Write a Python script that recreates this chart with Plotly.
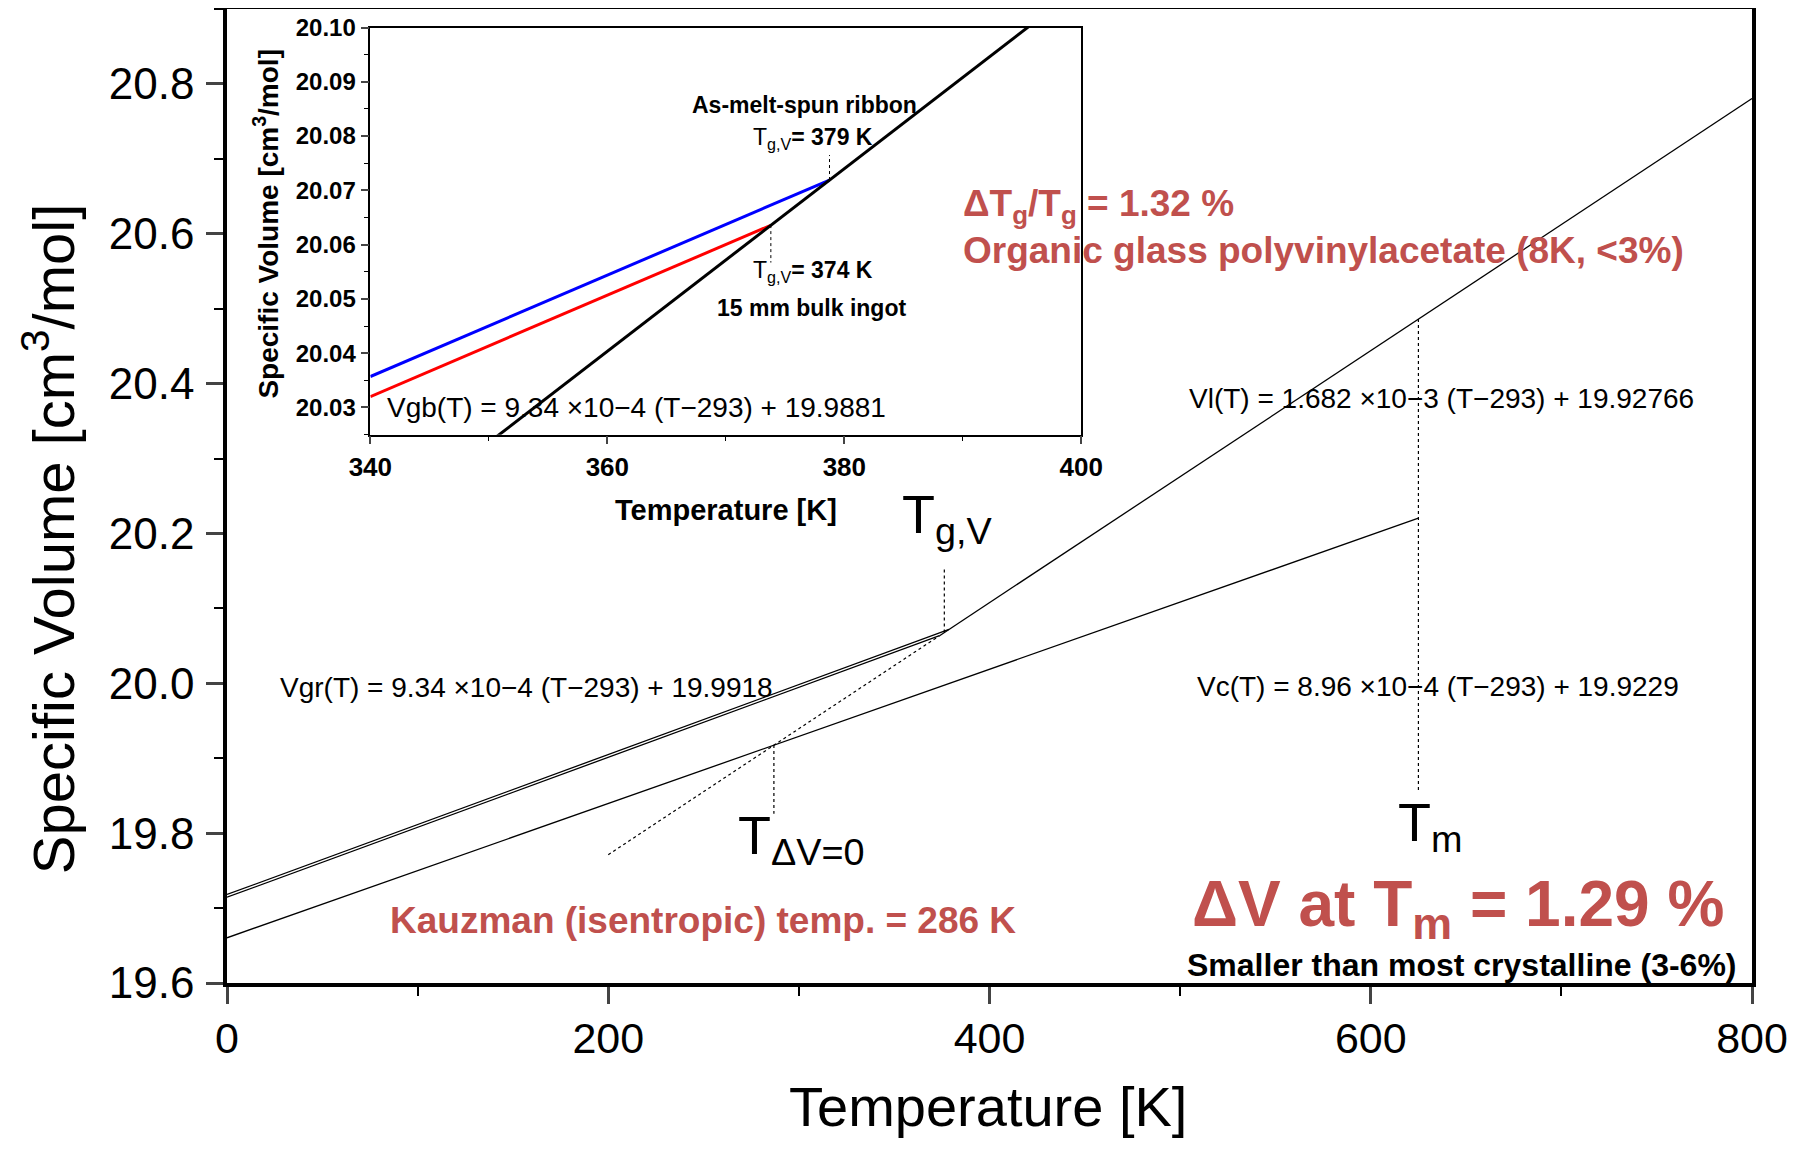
import plotly.graph_objects as go

# ---------------- data (read from the picture / equations shown) ----------------
# main plot lines: temperature [K] and specific volume [cm3/mol]
glass_ribbon_T = [0, 378.75]
glass_ribbon_V = [19.71814, 20.07189]
glass_bulk_T = [0, 373.8]
glass_bulk_V = [19.71444, 20.06357]
liquid_T = [373.8, 800]
liquid_V = [20.06357, 20.78043]
supercooled_T = [200, 373.8]
supercooled_V = [19.77123, 20.06357]
crystal_T = [0, 625]
crystal_V = [19.66037, 20.22037]
# vertical dotted guides
tm_T = [625, 625]
tm_V = [20.48608, 19.857]
tk_T = [286.9, 286.9]
tk_V = [19.9175, 19.826]
tg_T = [376.3, 376.3]
tg_V = [20.0678, 20.153]

# inset lines
in_ribbon_T = [340, 378.75]
in_ribbon_V = [20.0357, 20.07189]
in_bulk_T = [340, 373.8]
in_bulk_V = [20.0320, 20.06357]
in_liquid_T = [345, 400]
in_liquid_V = [20.01512, 20.10763]
in_tg_ribbon_T = [378.75, 378.75]
in_tg_ribbon_V = [20.0719, 20.0765]
in_tg_bulk_T = [373.8, 373.8]
in_tg_bulk_V = [20.0636, 20.0567]

main_xticks = [0, 200, 400, 600, 800]
main_yticks = [19.6, 19.8, 20.0, 20.2, 20.4, 20.6, 20.8]
inset_xticks = [340, 360, 380, 400]
inset_yticks = [20.03, 20.04, 20.05, 20.06, 20.07, 20.08, 20.09, 20.10]

FONT = "Liberation Sans, Arial"
RED = "#c0504d"

fig = go.Figure()

def line(x, y, dash="solid", width=1.3, color="black", xa="x", ya="y"):
    fig.add_trace(go.Scatter(x=x, y=y, mode="lines", xaxis=xa, yaxis=ya,
                             line=dict(color=color, width=width, dash=dash),
                             showlegend=False, hoverinfo="skip"))

line(glass_ribbon_T, glass_ribbon_V)
line(glass_bulk_T, glass_bulk_V)
line(liquid_T, liquid_V)
line(crystal_T, crystal_V)
line(supercooled_T, supercooled_V, dash="dot", width=1.2)
line(tm_T, tm_V, dash="dot", width=1.2)
line(tk_T, tk_V, dash="dot", width=1.2)
line(tg_T, tg_V, dash="dot", width=1.2)

line(in_ribbon_T, in_ribbon_V, color="#0000ff", width=3, xa="x2", ya="y2")
line(in_bulk_T, in_bulk_V, color="#ff0000", width=3, xa="x2", ya="y2")
line(in_liquid_T, in_liquid_V, color="black", width=3, xa="x2", ya="y2")
line(in_tg_ribbon_T, in_tg_ribbon_V, dash="dot", width=1, xa="x2", ya="y2")
line(in_tg_bulk_T, in_tg_bulk_V, dash="dot", width=1, xa="x2", ya="y2")

ann = []
def text(x, y, t, size, color="black", bold=False, xanchor="left", xref="x", yref="y", angle=0):
    ann.append(dict(x=x, y=y, xref=xref, yref=yref, text=t, showarrow=False,
                    xanchor=xanchor, yanchor="middle", textangle=angle,
                    font=dict(family=FONT, size=size, color=color,
                              weight="bold" if bold else "normal")))

# main annotations
text(353, 20.2206, "T<sub>g,V</sub>", 54)
text(267, 19.792, "T<sub>ΔV=0</sub>", 54)
text(613.5, 19.809, "T<sub>m</sub>", 54)
text(27, 19.9948, "Vgr(T) = 9.34 ×10−4 (T−293) + 19.9918", 28)
text(503.5, 20.380, "Vl(T) = 1.682 ×10−3 (T−293) + 19.92766", 28)
text(507.7, 19.9963, "Vc(T) = 8.96 ×10−4 (T−293) + 19.9229", 28)
text(385, 20.637, "ΔT<sub>g</sub>/T<sub>g</sub> = 1.32 %", 37, RED, True)
text(385, 20.578, "Organic glass polyvinylacetate (8K, <3%)", 37, RED, True)
text(84.2, 19.683, "Kauzman (isentropic) temp. = 286 K", 37, RED, True)
text(505.3, 19.700, "ΔV at T<sub>m</sub> = 1.29 %", 64, RED, True)
text(502.3, 19.6246, "Smaller than most crystalline (3-6%)", 32, "black", True)

# inset annotations
text(376.6, 20.0858, "As-melt-spun ribbon", 23, bold=True, xanchor="center", xref="x2", yref="y2")
text(372.1, 20.0796, "T<sub>g,V</sub><b>= 379 K</b>", 23, xref="x2", yref="y2")
text(372.1, 20.0550, "T<sub>g,V</sub><b>= 374 K</b>", 23, xref="x2", yref="y2")
text(377.2, 20.0483, "15 mm bulk ingot", 23, bold=True, xanchor="center", xref="x2", yref="y2")
text(341.2, 20.0300, "Vgb(T) = 9.34 ×10−4 (T−293) + 19.9881", 28, xref="x2", yref="y2")

# axis titles
ann.append(dict(x=-0.1165, y=0.456, xref="paper", yref="paper", showarrow=False,
                text="Specific Volume [cm<sup>3</sup>/mol]", textangle=-90,
                xanchor="center", yanchor="middle",
                font=dict(family=FONT, size=58, color="black")))
ann.append(dict(x=0.499, y=-0.127, xref="paper", yref="paper", showarrow=False,
                text="Temperature [K]", xanchor="center", yanchor="middle",
                font=dict(family=FONT, size=56, color="black")))
ann.append(dict(x=0.0256, y=0.7797, xref="paper", yref="paper", showarrow=False,
                text="Specific Volume [cm<sup>3</sup>/mol]", textangle=-90,
                xanchor="center", yanchor="middle",
                font=dict(family=FONT, size=28, color="black", weight="bold")))
ann.append(dict(x=0.327, y=0.4856, xref="paper", yref="paper", showarrow=False,
                text="Temperature [K]", xanchor="center", yanchor="middle",
                font=dict(family=FONT, size=29, color="black", weight="bold")))

fig.update_layout(
    width=1782, height=1134,
    margin=dict(l=219, r=38, t=1, b=159, autoexpand=False),
    paper_bgcolor="white", plot_bgcolor="white",
    annotations=ann,
    xaxis=dict(range=[0, 800], tickvals=main_xticks, ticks="outside", ticklen=17,
               tickwidth=3, showline=True, linewidth=3.5, linecolor="black", mirror=True,
               showgrid=False, zeroline=False, ticklabelstandoff=-2,
               tickfont=dict(family=FONT, size=43, color="black"),
               minor=dict(dtick=100, ticks="outside", ticklen=9, tickwidth=2, tickcolor="black", showgrid=False)),
    yaxis=dict(range=[19.6, 20.9], tickvals=main_yticks, tickformat=".1f", ticks="outside",
               ticklen=17, tickwidth=3, showline=True, linewidth=3.5, linecolor="black",
               mirror=True, showgrid=False, zeroline=False, ticklabelstandoff=3,
               tickfont=dict(family=FONT, size=44, color="black"),
               minor=dict(dtick=0.1, tick0=19.6, ticks="outside", ticklen=9, tickwidth=2, tickcolor="black", showgrid=False)),
    xaxis2=dict(domain=[0.094, 0.5602], anchor="y2", range=[340, 400], tickvals=inset_xticks,
                ticks="outside", ticklen=8, tickwidth=1.5, showline=True, linewidth=1.5,
                linecolor="black", mirror=True, showgrid=False, zeroline=False,
                tickfont=dict(family=FONT, size=26, color="black", weight="bold"),
                minor=dict(dtick=10, tick0=340, ticks="outside", ticklen=5, tickwidth=1, tickcolor="black", showgrid=False)),
    yaxis2=dict(domain=[0.563, 0.981], anchor="x2", range=[20.025, 20.10], tickvals=inset_yticks,
                tickformat=".2f", ticks="outside", ticklen=8, tickwidth=1.5, showline=True,
                linewidth=1.5, linecolor="black", mirror=True, showgrid=False, zeroline=False,
                tickfont=dict(family=FONT, size=24, color="black", weight="bold"),
                minor=dict(dtick=0.005, tick0=20.025, ticks="outside", ticklen=5, tickwidth=1, tickcolor="black", showgrid=False)),
)

fig.write_html("out.html")
